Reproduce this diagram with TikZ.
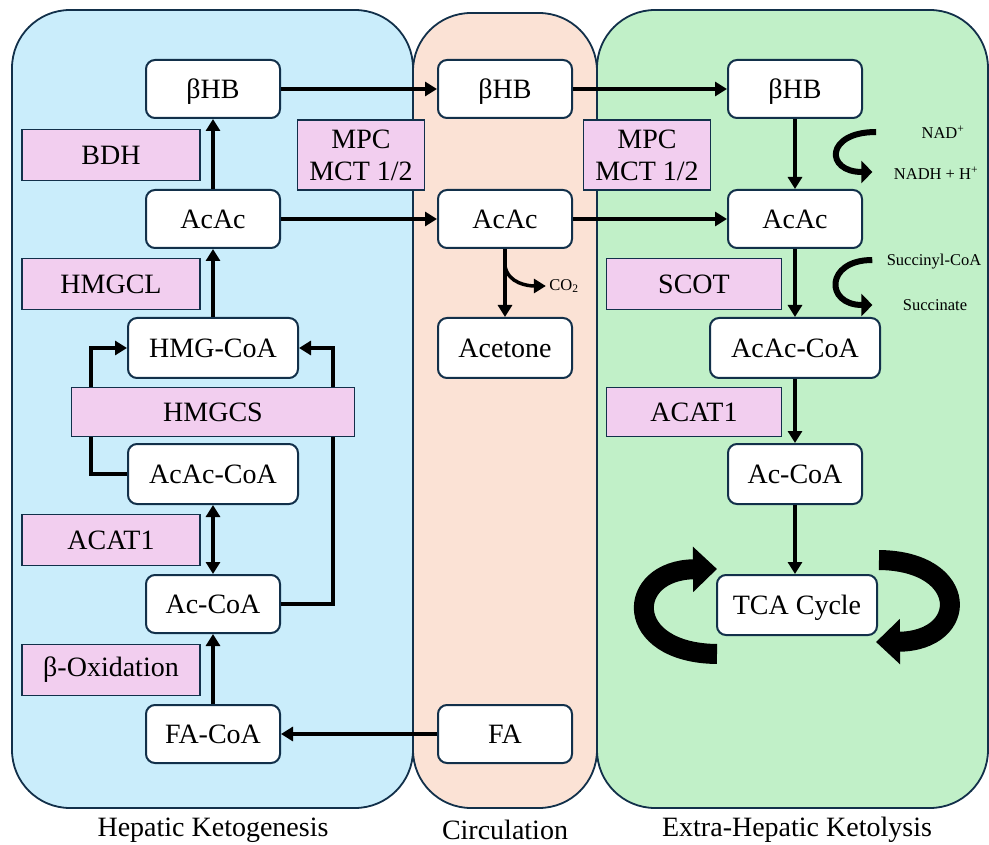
\documentclass[tikz,border=0pt]{standalone}
\usepackage{fontspec}
\setmainfont{Liberation Serif}
\usetikzlibrary{positioning,arrows.meta,calc}
\definecolor{cLiver}{HTML}{CAEDFB}
\definecolor{cBlood}{HTML}{FBE2D5}
\definecolor{cTissue}{HTML}{C1F0C8}
\definecolor{cEnz}{HTML}{F2CEEF}
\definecolor{cEdge}{HTML}{12304A}

\begin{document}
\begin{tikzpicture}[x=1pt, y=-1pt, font=\fontsize{28}{32}\selectfont,
    panel/.style={draw=cEdge, line width=1.8pt, rounded corners=58pt},
    metab/.style={draw=cEdge, fill=white, line width=2pt, rounded corners=9pt,
      minimum width=134pt, minimum height=58pt, inner sep=0pt, text depth=0pt},
    wide/.style={minimum width=170pt, minimum height=60pt},
    enz/.style={draw=cEdge, fill=cEnz, line width=1.8pt, minimum width=178pt,
      minimum height=51pt, inner sep=0pt, align=center},
    flow/.style={line width=4pt, -{Triangle[length=12pt,width=14pt]}},
    dflow/.style={line width=4pt, {Triangle[length=12pt,width=14pt]}-{Triangle[length=12pt,width=14pt]}},
    cofac/.style={line width=6pt, -{Triangle[length=11pt,width=22pt]}},
    cyc/.style={line width=20pt, -{Triangle[length=24pt,width=44pt]}},
    small/.style={font=\fontsize{16.5}{19}\selectfont}]
    \useasboundingbox (0,0) rectangle (989,845);

    % --- panels ------------------------------------------------------
    \draw[panel, fill=cBlood]  (413,13) rectangle (597,808);
    \draw[panel, fill=cLiver]  (12,10) rectangle (413,808);
    \draw[panel, fill=cTissue] (597,10) rectangle (988,808);
    \node (lblLiver)  at (213,830) {Hepatic Ketogenesis};
    \node (lblBlood)  at (505,830) {Circulation};
    \node (lblTissue) at (797,830) {Extra-Hepatic Ketolysis};

    % --- liver -------------------------------------------------------
    \node[metab] (bhbL) at (213,89) {βHB};
    \node[metab] (acacL) at (213,219) {AcAc};
    \node[metab, wide] (hmgL) at (213,348) {HMG-CoA};
    \node[metab, wide] (acacoaL) at (213,474) {AcAc-CoA};
    \node[metab] (acoaL) at (213,604) {Ac-CoA};
    \node[metab] (facoa) at (213,734) {FA-CoA};

    % --- blood -------------------------------------------------------
    \node[metab] (bhbM) at (505,89) {βHB};
    \node[metab] (acacM) at (505,219) {AcAc};
    \node[metab, minimum height=60pt] (acetone) at (505,348) {Acetone};
    \node[metab] (fa) at (505,734) {FA};

    % --- tissue ------------------------------------------------------
    \node[metab] (bhbR) at (795,89) {βHB};
    \node[metab] (acacR) at (795,219) {AcAc};
    \node[metab, wide] (acacoaR) at (795,348) {AcAc-CoA};
    \node[metab, minimum height=60pt] (acoaR) at (795,474) {Ac-CoA};
    \node[metab, minimum width=160pt, minimum height=60pt] (tca) at (797,605) {TCA Cycle};

    \node[small] (nad)    at (943,132) {NAD\textsuperscript{+}};
    \node[small] (nadh)   at (936,173) {NADH + H\textsuperscript{+}};
    \node[small] (succoa) at (934,262) {Succinyl-CoA};
    \node[small] (succ)   at (935,305) {Succinate};
    \node[small] (co2)    at (564,286) {CO\textsubscript{2}};

    % --- connectors --------------------------------------------------
    \draw[flow] (bhbL) -- (bhbM);
    \draw[flow] (bhbM) -- (bhbR);
    \draw[flow] (acacL) -- (acacM);
    \draw[flow] (acacM) -- (acacR);
    \draw[flow] (acacL) -- (bhbL);
    \draw[flow] (hmgL) -- (acacL);
    \draw[flow] (acacoaL.west) -- ++(-36,0) |- (hmgL.west);
    \draw[flow] (acoaL.east) -- ++(52,0) |- (hmgL.east);
    \draw[dflow] (acacoaL) -- (acoaL);
    \draw[flow] (facoa) -- (acoaL);
    \draw[flow] (fa) -- (facoa);

    \draw[flow] (acacM) -- (acetone);
    \path (acacM.south) -- (acetone.north) coordinate[pos=0.25] (co2fork);
    \draw[flow, line width=3.5pt] (co2fork) to[out=-80,in=180] (co2.west);

    \draw[flow] (bhbR) -- (acacR);
    \draw[flow] (acacR) -- (acacoaR);
    \draw[flow] (acacoaR) -- (acoaR);
    \draw[flow] (acoaR) -- (acoaR |- tca.north);

    \draw[cofac] ($(nad.west)+(-42,0)$) .. controls (825,132) and (825,172) .. ($(nadh.west)+(-18,-1)$);
    \draw[cofac] ($(succoa.west)+(-11,-2)$) .. controls (825,260) and (825,305) .. ($(succ.west)+(-27,0)$);

    \draw[cyc] ($(tca.south west)+(1,18)$) .. controls (622,653) and (625,570) .. ($(tca.north west)+(1,-5)$);
    \draw[cyc] ($(tca.north east)+(1,-14)$) .. controls (970,561) and (970,641) .. ($(tca.south east)+(-2,6)$);

    % --- enzymes -----------------------------------------------------
    \foreach \nm/\x/\y/\txt in {bdh/111/155/BDH, hmgcl/111/284/HMGCL,
        acatL/111/540/ACAT1, betaox/111/670/β-Oxidation}
      \node[enz] (\nm) at (\x,\y) {\txt};
    \node[enz, minimum width=283pt, minimum height=49pt] (hmgcs) at (213,412) {HMGCS};
    \node[enz, minimum width=127pt, minimum height=70pt] (mpcL) at (361,155) {MPC\\MCT 1/2};
    \node[enz, minimum width=127pt, minimum height=70pt] (mpcR) at (647,155) {MPC\\MCT 1/2};
    \node[enz, minimum width=175pt] (scot) at (694,284) {SCOT};
    \node[enz, minimum width=175pt, minimum height=49pt] (acatR) at (694,412) {ACAT1};
\end{tikzpicture}
\end{document}
